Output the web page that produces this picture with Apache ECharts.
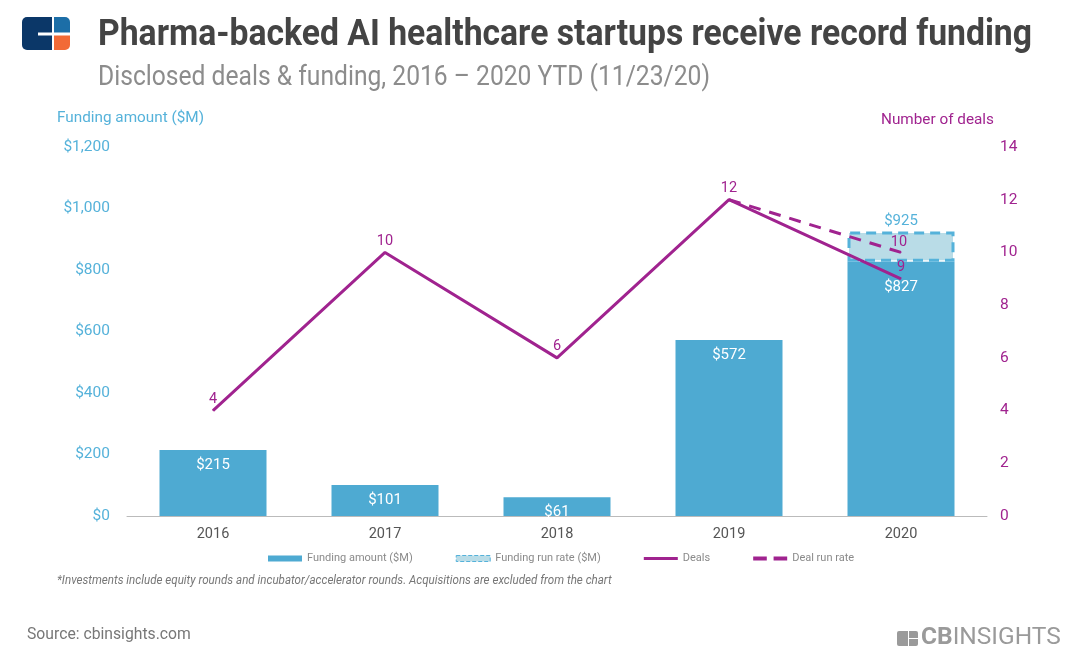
<!DOCTYPE html>
<html><head><meta charset="utf-8">
<script src="https://cdn.jsdelivr.net/npm/echarts@6/dist/echarts.min.js"></script>
<style>html,body{margin:0;padding:0;background:#fff}#c{width:1080px;height:664px}</style>
</head><body><div id="c"></div>
<script>
const years = ['2016','2017','2018','2019','2020'];
const funding = [215, 101, 61, 572, 827];
const fundingRunRate = [null, null, null, null, 925];
const deals = [4, 10, 6, 12, 9];
const dealRunRate = [null, null, null, 12, 10];
const leftTicks = [0, 200, 400, 600, 800, 1000, 1200];
const rightTicks = [0, 2, 4, 6, 8, 10, 12, 14];

const BLUE = '#4eaad2', LIGHT = '#b9dce7', AXBLUE = '#55b2da', PURPLE = '#a0238f';
const COND = "Roboto, 'Liberation Sans', sans-serif";

const chart = echarts.init(document.getElementById('c'), null, {renderer: 'canvas'});
const fmtMoney = v => '$' + v.toLocaleString('en-US');

const option = {
  animation: false,
  backgroundColor: '#fff',
  grid: {left: 127, right: 93, top: 147, bottom: 148},
  legend: {
    left: 263, top: 548, itemWidth: 34, itemHeight: 6, itemGap: 43,
    textStyle: {color: '#8a8a8a', fontSize: 11, fontFamily: COND},
    data: [
      {name: 'Funding amount ($M)', icon: 'rect'},
      {name: 'Funding run rate ($M)', icon: 'rect', itemStyle: {color: LIGHT, borderColor: AXBLUE, borderWidth: 1, borderType: 'dashed'}},
      {name: 'Deals', icon: 'path://M0,0 L34,0 L34,3 L0,3 Z'},
      {name: 'Deal run rate', icon: 'path://M0,0 L10,0 L10,3 L0,3 Z M15,0 L25,0 L25,3 L15,3 Z', itemWidth: 25}
    ]
  },
  xAxis: {
    type: 'category', data: years,
    axisLine: {lineStyle: {color: '#bbb', width: 1}},
    axisTick: {show: false},
    axisLabel: {color: '#555', fontSize: 14.5, margin: 11, fontFamily: COND}
  },
  yAxis: [
    {type: 'value', min: 0, max: leftTicks[leftTicks.length-1], interval: 200,
     splitLine: {show: false}, axisLine: {show: false}, axisTick: {show: false},
     axisLabel: {color: AXBLUE, fontSize: 15.5, margin: 17, fontFamily: COND, padding: [3, 0, 0, 0], formatter: v => fmtMoney(v)}},
    {type: 'value', min: 0, max: rightTicks[rightTicks.length-1], interval: 2,
     splitLine: {show: false}, axisLine: {show: false}, axisTick: {show: false},
     axisLabel: {color: PURPLE, fontSize: 15.5, margin: 13, fontFamily: COND, padding: [3, 0, 0, 0]}}
  ],
  series: [
    {name: 'Funding amount ($M)', type: 'bar', stack: 'f', barWidth: 107, yAxisIndex: 0,
     itemStyle: {color: BLUE},
     data: funding.map((v, i) => i === 4 ? {value: v, label: {offset: [0, 10]}} : v),
     label: {show: true, position: 'insideTop', distance: 8, color: '#fff', fontSize: 15, fontFamily: COND,
             formatter: p => fmtMoney(p.value)}},
    {name: 'Funding run rate ($M)', type: 'bar', stack: 'f', barWidth: 107, yAxisIndex: 0,
     itemStyle: {color: LIGHT, borderColor: AXBLUE, borderWidth: 3, borderType: [10, 6]},
     data: fundingRunRate.map((v, i) => v == null ? null : v - funding[i]),
     label: {show: true, position: 'top', distance: 3, color: AXBLUE, fontSize: 15, fontFamily: COND,
             formatter: p => fmtMoney(fundingRunRate[p.dataIndex])}},
    {name: 'Deals', type: 'line', yAxisIndex: 1, data: deals, showSymbol: true, symbol: 'circle', symbolSize: 1,
     lineStyle: {color: PURPLE, width: 3}, itemStyle: {color: PURPLE}, z: 5,
     label: {show: true, position: 'top', distance: 3, color: PURPLE, fontSize: 14.5, fontFamily: COND}},
    {name: 'Deal run rate', type: 'line', yAxisIndex: 1, data: dealRunRate, showSymbol: true, symbol: 'circle', symbolSize: 1,
     lineStyle: {color: PURPLE, width: 3, type: [12, 9]}, itemStyle: {color: PURPLE}, z: 5,
     label: {show: true, position: 'top', distance: 2, offset: [-2, 0], color: PURPLE, fontSize: 14.5, fontFamily: COND,
             formatter: p => p.dataIndex === 4 ? String(p.value) : ''}}
  ],
  graphic: [
    // logo top-left
    {type: 'rect', shape: {x: 22, y: 17, width: 30, height: 33, r: [5, 0, 0, 5]}, style: {fill: '#0b3768'}},
    {type: 'rect', shape: {x: 38, y: 32.5, width: 16, height: 3}, style: {fill: '#fff'}, z: 10},
    {type: 'rect', shape: {x: 54, y: 17, width: 16, height: 15.5, r: [0, 5, 0, 0]}, style: {fill: '#1c6ea7'}},
    {type: 'rect', shape: {x: 54, y: 35.5, width: 16, height: 14.5, r: [0, 0, 5, 0]}, style: {fill: '#f26a36'}},
    {type: 'text', left: 98, top: 17, scaleX: 0.911, style: {text: 'Pharma-backed AI healthcare startups receive record funding', fill: '#444', font: "bold 37px " + COND}},
    {type: 'text', left: 98, top: 64, scaleX: 0.88, style: {text: 'Disclosed deals & funding, 2016 \u2013 2020 YTD (11/23/20)', fill: '#8c8c8c', font: "28px " + COND}},
    {type: 'text', left: 57, top: 111, scaleX: 1.02, style: {text: 'Funding amount ($M)', fill: AXBLUE, font: "15px " + COND}},
    {type: 'text', left: 881, top: 113, scaleX: 1.02, style: {text: 'Number of deals', fill: PURPLE, font: "15px " + COND}},
    {type: 'text', left: 57, top: 575, scaleX: 0.967, style: {text: '*Investments include equity rounds and incubator/accelerator rounds. Acquisitions are excluded from the chart', fill: '#777', font: "italic 12px " + COND}},
    {type: 'text', left: 27, top: 626, scaleX: 0.925, style: {text: 'Source: cbinsights.com', fill: '#777', font: "17px " + COND}},
    // CB Insights logo bottom-right
    {type: 'rect', shape: {x: 897, y: 631, width: 11, height: 15, r: [2, 0, 0, 2]}, style: {fill: '#9a9a9a'}},
    {type: 'rect', shape: {x: 909, y: 631, width: 9, height: 7, r: [0, 2, 0, 0]}, style: {fill: '#9a9a9a'}},
    {type: 'rect', shape: {x: 909, y: 639, width: 9, height: 7, r: [0, 0, 2, 0]}, style: {fill: '#9a9a9a'}},
    {type: 'text', left: 921, top: 625, style: {
      text: '{b|CB}{n|INSIGHTS}',
      rich: {b: {font: "bold 24.5px " + COND, fill: '#9a9a9a'}, n: {font: "24.5px " + COND, fill: '#9a9a9a'}}}}
  ]
};
chart.setOption(option);
</script></body></html>
